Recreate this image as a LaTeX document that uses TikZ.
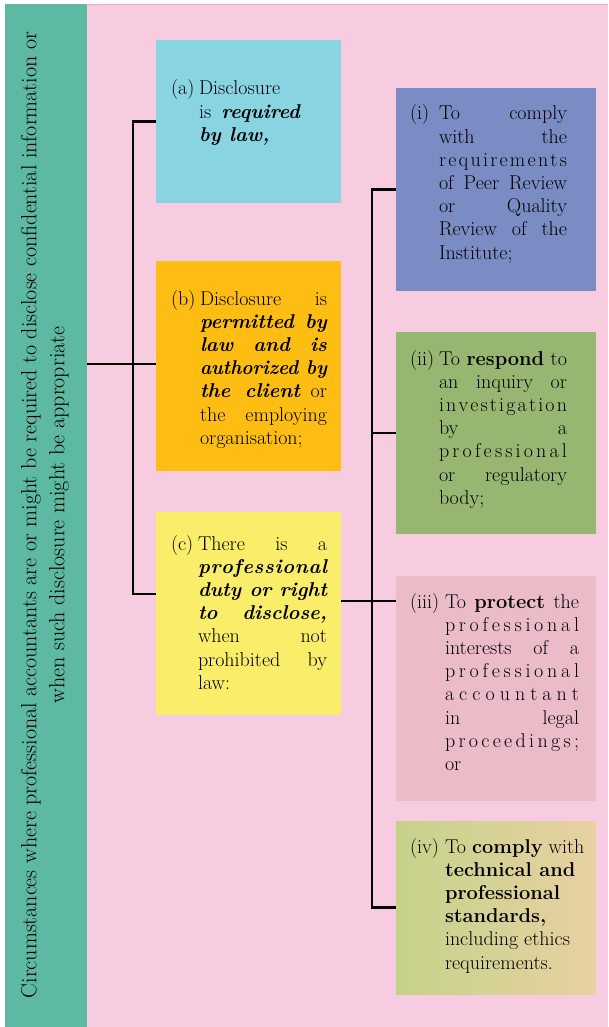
\documentclass[tikz,border=0pt]{standalone}
\usepackage{graphicx}
\definecolor{barG}{HTML}{5DB9A1}
\definecolor{bgP}{HTML}{F7CCE0}
\definecolor{topP}{HTML}{F4A6CC}
\definecolor{cA}{HTML}{89D4E1}
\definecolor{cB}{HTML}{FDBD13}
\definecolor{cC}{HTML}{F9ED6A}
\definecolor{cI}{HTML}{7B8BC3}
\definecolor{cII}{HTML}{97B671}
\definecolor{cIII}{HTML}{EBBBC7}
\definecolor{cIVl}{HTML}{C5D28A}
\definecolor{cIVr}{HTML}{E8D1A2}
\newsavebox\jlbox
\newcommand\jl[1]{\sbox\jlbox{#1}\ifdim\wd\jlbox>\linewidth\relax\resizebox{\linewidth}{\height}{\usebox\jlbox}\else\makebox[\linewidth][s]{#1}\fi\par}
\def\spr#1{#1\sprB}
\def\sprB#1{\ifx#1\relax\else\hfill#1\expandafter\sprB\fi}
\newcommand\bi[1]{{\bfseries\itshape #1}}
\newcommand\btext[4]{\makebox[#1][l]{#2}\parbox[t]{#3}{\lineskiplimit=-50pt\baselineskip=23.2pt\relax #4}}
\tikzset{
  box/.style={draw=none, inner sep=0pt, outer sep=0pt, anchor=north west},
  txt/.style={inner sep=0pt, outer sep=0pt, anchor=base west, font=\fontsize{20}{23.2}\selectfont},
  conn/.style={draw=black, line width=2.6pt}
}
\begin{document}
\begin{tikzpicture}[x=1pt,y=-1pt]
\useasboundingbox (0,0) rectangle (608,1027);
\fill[white] (0,0) rectangle (608,1027);
\fill[bgP] (5,4) rectangle (608,1027);
\draw[topP, line width=1pt] (87,4.5) -- (608,4.5);
\node[box, fill=barG, minimum width=82, minimum height=1023] (bar) at (5,4) {};
\node[rotate=90, align=center, inner sep=0pt, font=\fontsize{22}{28}\selectfont] (title) at (45,515)
  {Circumstances where professional accountants are or might be required to disclose confidential information or\\ when such disclosure might be appropriate};

% boxes
\node[box, fill=cA, minimum width=185, minimum height=163] (a) at (156,40) {};
\node[box, fill=cB, minimum width=185, minimum height=210] (b) at (156,261) {};
\node[box, fill=cC, minimum width=185, minimum height=203] (c) at (156,512) {};
\node[box, fill=cI, minimum width=200, minimum height=203] (i) at (396,88) {};
\node[box, fill=cII, minimum width=200, minimum height=202] (ii) at (396,332) {};
\node[box, fill=cIII, minimum width=200, minimum height=225] (iii) at (396,576) {};
\node[box, left color=cIVl, right color=cIVr, minimum width=200, minimum height=173] (iv) at (396,821) {};

% texts
\node[txt] (ta) at (171,95) {\btext{28pt}{(a)}{101pt}{%
  Disclosure\par
  \jl{is \bi{required}}
  \bi{by law,}}};
\node[txt] (tb) at (171,305) {\btext{29pt}{(b)}{127pt}{%
  \jl{Disclosure is}
  \jl{\bi{permitted by}}
  \jl{\bi{law and is}}
  \jl{\bi{authorized by}}
  \jl{\bi{the client} or}
  \jl{the employing}
  organisation;}};
\node[txt] (tc) at (171,550) {\btext{27pt}{(c)}{129pt}{%
  \jl{There is a}
  \jl{\bi{\spr professional\relax}}
  \jl{\bi{duty or right}}
  \jl{\bi{to disclose,}}
  \jl{when not}
  \jl{prohibited by}
  law:}};
\node[txt] (ti) at (410,120) {\btext{29pt}{(i)}{128pt}{%
  \jl{To comply}
  \jl{with the}
  \jl{\spr requirements\relax}
  \jl{of Peer Review}
  \jl{or Quality}
  \jl{Review of the}
  Institute;}};
\node[txt] (tii) at (410,365) {\btext{29pt}{(ii)}{128pt}{%
  \jl{To \textbf{respond} to}
  \jl{an inquiry or}
  \jl{\spr investigation\relax}
  \jl{by a}
  \jl{\spr professional\relax}
  \jl{or regulatory}
  body;}};
\node[txt] (tiii) at (410,608) {\btext{35pt}{(iii)}{134pt}{%
  \jl{To \textbf{protect} the}
  \jl{\spr professional\relax}
  \jl{interests of a}
  \jl{\spr professional\relax}
  \jl{\spr accountant\relax}
  \jl{in legal}
  \jl{\spr proceedings;\relax}
  or}};
\node[txt] (tiv) at (410,853) {\btext{35pt}{(iv)}{150pt}{%
  To \textbf{comply} with\par
  \textbf{technical and}\par
  \textbf{professional}\par
  \textbf{standards,}\par
  including ethics\par
  requirements.}};

% connectors
\coordinate (J1) at (133,364);
\coordinate (cL) at (156,594);
\coordinate (J2) at (372,601);
\coordinate (cR) at (341,601);
\coordinate (iiiL) at (396,601);
\draw[conn] (bar.east |- J1) -- (J1 -| b.west);
\draw[conn] (a.west) -- (a.west -| J1) -- (J1 |- cL) -- (cL);
\draw[conn] (cR) -- (iiiL);
\draw[conn] (i.west) -- (i.west -| J2) -- (J2 |- iv.west) -- (iv.west);
\draw[conn] (J2 |- ii.west) -- (ii.west);
\end{tikzpicture}
\end{document}
